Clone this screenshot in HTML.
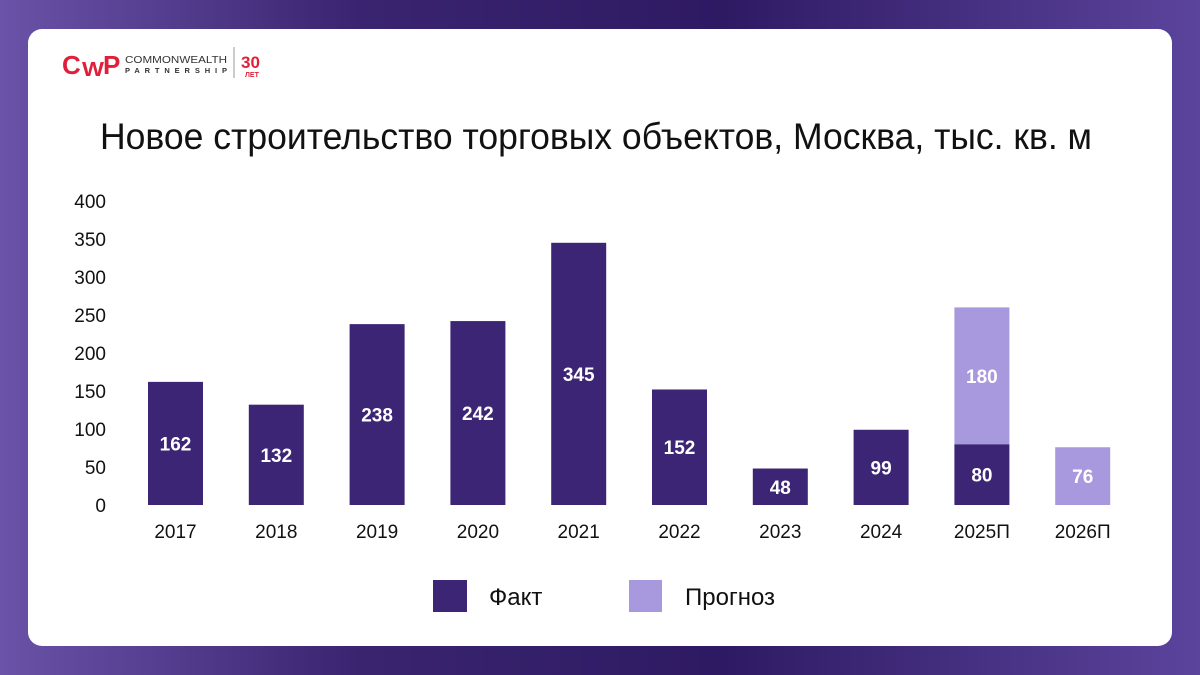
<!DOCTYPE html>
<html><head><meta charset="utf-8"><style>
body{margin:0;width:1200px;height:675px;overflow:hidden;background:linear-gradient(90deg,#6a53a8 0%,#3a2470 30%,#2e1a63 60%,#5b449c 100%);font-family:"Liberation Sans Narrow","Liberation Sans",sans-serif}
.card{position:absolute;left:28px;top:29px;width:1144px;height:617px;background:#fff;border-radius:14px}
</style></head><body>
<div class="card"></div>
<svg width="1200" height="675" style="position:absolute;left:0;top:0">
<g>
<text x="62" y="74" font-family="Liberation Sans" font-weight="bold" font-size="26" fill="#e0203a">C</text>
<text x="82" y="76" font-family="Liberation Sans" font-weight="bold" font-size="20" fill="#e0203a" textLength="22" lengthAdjust="spacingAndGlyphs">W</text>
<text x="103" y="74" font-family="Liberation Sans" font-weight="bold" font-size="26" fill="#e0203a">P</text>
<text x="125" y="63" font-family="Liberation Sans" font-size="10" fill="#333" textLength="102" lengthAdjust="spacingAndGlyphs">COMMONWEALTH</text>
<text x="125" y="73" font-family="Liberation Sans" font-weight="bold" font-size="7.5" fill="#333" textLength="102" lengthAdjust="spacing">PARTNERSHIP</text>
<line x1="234" y1="47" x2="234" y2="78" stroke="#999" stroke-width="1"/>
<text x="241" y="68" font-family="Liberation Sans" font-weight="bold" font-size="17" fill="#e0203a">30</text>
<text x="245" y="77" font-family="Liberation Sans" font-weight="bold" font-size="7" fill="#e0203a">ЛЕТ</text>
</g>
<text x="100" y="149" font-size="37" fill="#111" textLength="992" lengthAdjust="spacingAndGlyphs">Новое строительство торговых объектов, Москва, тыс. кв. м</text>
<g id="yaxis"></g><g id="bars"></g><g id="xaxis"></g>
<rect x="433" y="580" width="34" height="32" fill="#3b2574"/>
<text x="489" y="605" font-size="24" fill="#111">Факт</text>
<rect x="629" y="580" width="33" height="32" fill="#a899de"/>
<text x="685" y="605" font-size="24" fill="#111">Прогноз</text>
</svg>
<script>
const categories=["2017","2018","2019","2020","2021","2022","2023","2024","2025П","2026П"];
const fact=[162,132,238,242,345,152,48,99,80,0];
const forecast=[0,0,0,0,0,0,0,0,180,76];
const yTicks=[0,50,100,150,200,250,300,350,400];
const NS="http://www.w3.org/2000/svg";
const y=v=>505-v*0.76;
const xc=i=>175.5+i*100.8;
const bw=55;
function mk(t,a,p){const e=document.createElementNS(NS,t);for(const k in a)e.setAttribute(k,a[k]);p.appendChild(e);return e;}
const ya=document.getElementById('yaxis'),ba=document.getElementById('bars'),xa=document.getElementById('xaxis');
yTicks.forEach(v=>{const t=mk('text',{x:106,y:y(v)+7,'text-anchor':'end','font-size':19,fill:'#111'},ya);t.textContent=v;

});
categories.forEach((c,i)=>{
 let base=0;
 [[fact[i],'#3b2574','bar-fact'],[forecast[i],'#a899de','bar-forecast']].forEach(([v,col,n])=>{
  if(!v)return;
  const r=mk('rect',{x:xc(i)-bw/2,y:y(base+v),width:bw,height:v*0.76,fill:col},ba);
  
  
  const t=mk('text',{x:xc(i),y:y(base+v/2)+7,'text-anchor':'middle','font-size':19,'font-weight':'bold',fill:'#fff'},ba);
  t.textContent=v;
  
  
  base+=v;
 });
 const t=mk('text',{x:xc(i),y:538,'text-anchor':'middle','font-size':19,fill:'#111'},xa);t.textContent=c;
 
 
});
</script>
</body></html>
